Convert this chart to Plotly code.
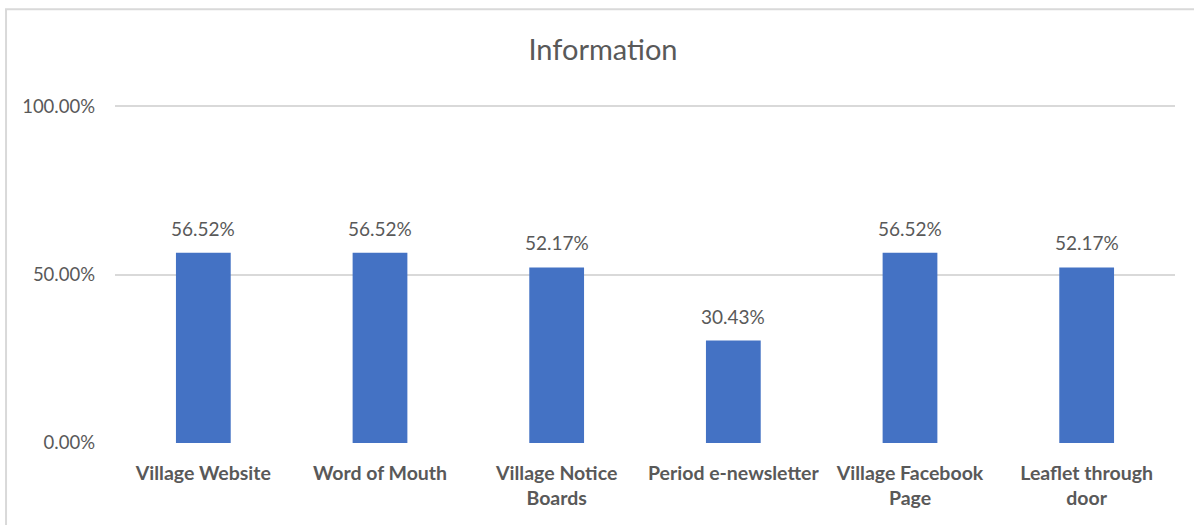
import plotly.graph_objects as go

# survey answers: where people get village information
categories = [
    "Village Website",
    "Word of Mouth",
    "Village Notice<br>Boards",
    "Period e-newsletter",
    "Village Facebook<br>Page",
    "Leaflet through<br>door",
]
shares = [0.5652, 0.5652, 0.5217, 0.3043, 0.5652, 0.5217]
y_ticks = [0.0, 0.5, 1.0]

grey = "#595959"
font = "Lato, 'Open Sans', sans-serif"

fig = go.Figure()
fig.add_trace(go.Bar(
    x=categories,
    y=shares,
    marker=dict(color="#4472C4", line=dict(width=0)),
    width=0.31,
    hoverinfo="x+y",
))

# value labels a little above each bar
for cat, v in zip(categories, shares):
    fig.add_annotation(
        x=cat, y=v, text=f"{v:.2%}",
        showarrow=False, yanchor="bottom", yshift=11,
        font=dict(size=19, color=grey, family=font),
    )

fig.update_layout(
    width=1194,
    height=525,
    margin=dict(l=115, r=19, t=103, b=82),
    paper_bgcolor="white",
    plot_bgcolor="white",
    showlegend=False,
    title=dict(
        text="Information",
        x=0.505, xanchor="center",
        y=0.905, yanchor="middle",
        font=dict(size=29, color=grey, family=font),
    ),
    font=dict(family=font, color=grey),
)

fig.update_yaxes(
    range=[0, 1.01],
    tickvals=y_ticks,
    tickformat=".2%",
    tickfont=dict(size=18.5, color=grey, family=font),
    showgrid=True,
    gridcolor="#d9d9d9",
    gridwidth=1.5,
    zeroline=False,
    showline=False,
    ticklabelstandoff=19,
)
fig.update_xaxes(
    tickfont=dict(size=19.5, color=grey, family=font),
    showline=False,
    ticks="",
    tickprefix="<b>",
    ticksuffix="</b>",
    ticklabelstandoff=16,
)

# outer chart frame (only left and top edges fall inside the picture)
fig.add_shape(
    type="path",
    xref="paper", yref="paper",
    path="M -0.1028 -0.3 L -0.1028 1.276 L 1.1 1.276",
    line=dict(color="#d9d9d9", width=2),
)

# drop the default 8px page margin so the figure sits at the window corner
fig.write_html(
    "out.html",
    config={"displayModeBar": False},
    post_script="document.body.style.margin='0';",
)
